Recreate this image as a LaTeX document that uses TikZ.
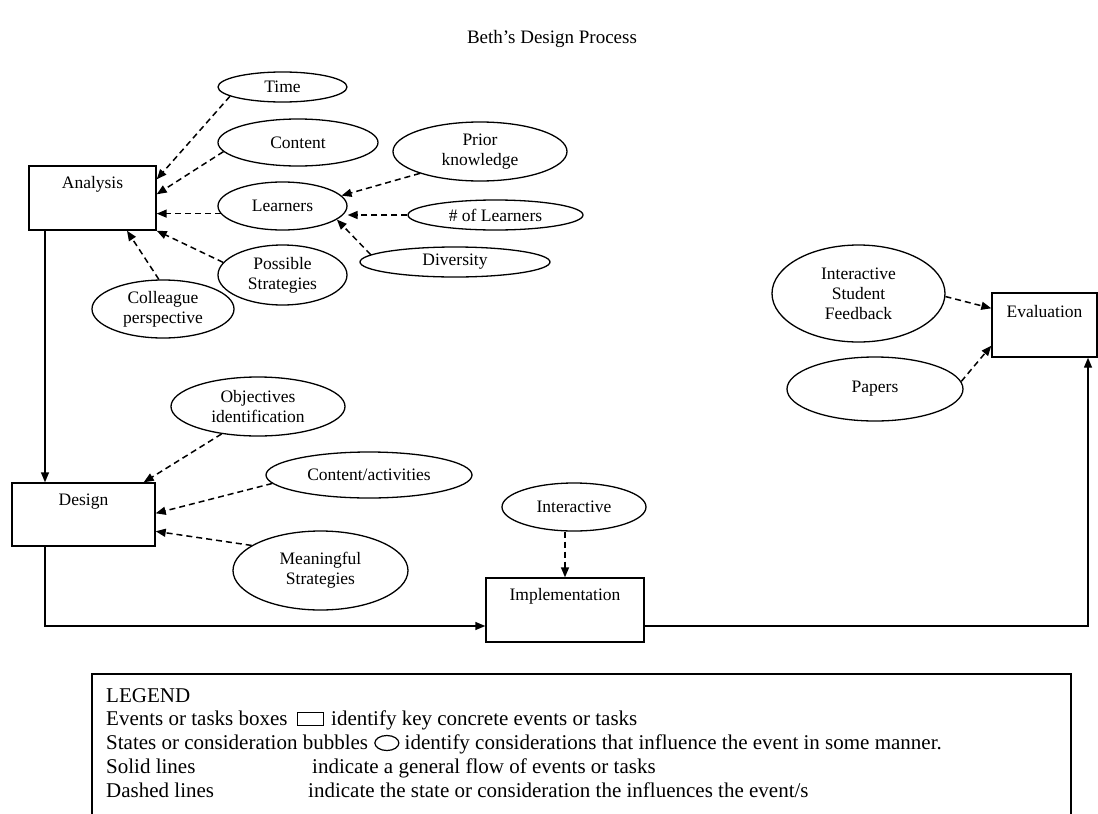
\documentclass[tikz,border=0pt]{standalone}
\usepackage{fontspec}
\setmainfont{Liberation Serif}
\usetikzlibrary{arrows.meta,shapes.geometric}
\begin{document}
\begin{tikzpicture}[x=1pt,y=-1pt,
  every node/.style={inner sep=0pt},
  nodefont/.style={font=\fontsize{17.5}{20}\selectfont},
  event/.style={draw, line width=1.4pt, rectangle},
  bubble/.style={draw, line width=1.3pt, ellipse, nodefont, align=center},
  boxlabel/.style={nodefont, anchor=center},
  flow/.style={line width=1.4pt, -{Triangle[length=10pt,width=8pt]}},
  influence/.style={line width=1.5pt, dash pattern=on 6pt off 4pt, -{Triangle[length=10pt,width=8pt]}},
  legtext/.style={font=\fontsize{21}{23}\selectfont, anchor=base west},
]
\useasboundingbox (0,0) rectangle (1098,814);

% title
\node[font=\fontsize{19}{22}\selectfont, anchor=base] (title) at (552,43) {Beth’s Design Process};

% event boxes
\node[event, minimum width=127pt, minimum height=64pt] (analysis) at (92.5,198) {};
\node[boxlabel] (analysis-t) at ([yshift=-19pt]analysis.north) {Analysis};
\node[event, minimum width=143pt, minimum height=63pt] (design) at (83.5,514.5) {};
\node[boxlabel] (design-t) at ([yshift=-19pt]design.north) {Design};
\node[event, minimum width=158pt, minimum height=64pt] (impl) at (565,610) {};
\node[boxlabel] (impl-t) at ([yshift=-19pt]impl.north) {Implementation};
\node[event, minimum width=105pt, minimum height=64pt] (eval) at (1044.5,325) {};
\node[boxlabel] (eval-t) at ([yshift=-19pt]eval.north) {Evaluation};

% consideration bubbles
\node[bubble, minimum width=129pt, minimum height=30pt] (time) at (282.5,87) {Time};
\node[bubble, minimum width=160pt, minimum height=47pt] (content) at (298,142.5) {Content};
\node[bubble, minimum width=174pt, minimum height=59pt] (prior) at (480,151.5) {Prior\\knowledge};
\node[bubble, minimum width=129pt, minimum height=48pt] (learners) at (282.5,206) {Learners};
\node[bubble, minimum width=175pt, minimum height=30pt] (numl) at (495.5,215) {\# of Learners};
\node[bubble, minimum width=190pt, minimum height=30pt] (diversity) at (455,262) {Diversity};
\node[bubble, minimum width=129pt, minimum height=60pt] (possible) at (282.5,275) {Possible\\Strategies};
\node[bubble, minimum width=142pt, minimum height=58pt] (colleague) at (163,309) {Colleague\\perspective};
\node[bubble, minimum width=174pt, minimum height=59pt] (objectives) at (258,406.5) {Objectives\\identification};
\node[bubble, minimum width=206pt, minimum height=46pt] (contact) at (369,475) {Content/activities};
\node[bubble, minimum width=175pt, minimum height=79pt] (meaningful) at (320.5,570.5) {Meaningful\\Strategies};
\node[bubble, minimum width=144pt, minimum height=48pt] (interactive) at (574,507) {Interactive};
\node[bubble, minimum width=173pt, minimum height=97pt] (isf) at (858.5,293.5) {Interactive\\Student\\Feedback};
\node[bubble, minimum width=176pt, minimum height=64pt] (papers) at (875,389) {Papers};

% influences on the analysis
\draw[influence] (time.190) -- ([yshift=-14pt]analysis.north east);
\draw[influence] (content.187) -- ([yshift=-29pt]analysis.north east);
\draw[influence] (learners.187) -- (learners.187 -| analysis.east);
\draw[influence] (possible.168) -- (analysis.south east);
\draw[influence] (colleague.98) -- ([xshift=34.5pt]analysis.south);
\draw[influence] (prior.200) -- (learners.10);
\draw[influence] (numl.west) -- (numl.west -| learners.east);
\draw[influence] (diversity.175) -- (learners.-14);

% design stage
\draw[flow] ([xshift=-47.5pt]analysis.south) -- ([xshift=-38.5pt]design.north);
\draw[influence] (objectives.217) -- ([xshift=-12pt]design.north east);
\draw[influence] (contact.185) -- ([yshift=-31pt]design.north east);
\draw[influence] (meaningful.160) -- ([yshift=-49pt]design.north east);

% implementation and evaluation
\draw[flow] ([xshift=-38.5pt]design.south) |- ([yshift=-16pt]impl.west);
\draw[influence] (interactive.south -| impl.north) -- (impl.north);
\draw[flow] ([yshift=-16pt]impl.east) -| ([xshift=43.5pt]eval.south);
\draw[influence] (isf.-2) -- ([yshift=-16pt]eval.north west);
\draw[influence] (papers.5) -- ([yshift=12pt]eval.south west);

% legend
\draw[line width=1.3pt] (92,816) -- (92,674) -- (1071,674) -- (1071,816);
\node[legtext] (lg1) at (106,702) {LEGEND};
\node[legtext] (lg2a) at (106,725) {Events or tasks boxes};
\node[draw, line width=1.2pt, minimum width=26pt, minimum height=13pt, anchor=west] (lg2b) at ([xshift=9pt,yshift=6pt]lg2a.base east) {};
\node[legtext] (lg2c) at ([xshift=7pt]lg2b.east |- lg2a.base) {identify key concrete events or tasks};
\node[legtext] (lg3a) at (106,749) {States or consideration bubbles};
\node[draw, ellipse, line width=1.2pt, minimum width=24pt, minimum height=15pt, anchor=west] (lg3b) at ([xshift=6pt,yshift=6pt]lg3a.base east) {};
\node[legtext] (lg3c) at ([xshift=5pt]lg3b.east |- lg3a.base) {identify considerations that influence the event in some manner.};
\node[legtext] (lg4a) at (106,773) {Solid lines};
\node[legtext] (lg4b) at (312,773) {indicate a general flow of events or tasks};
\node[legtext] (lg5a) at (106,797) {Dashed lines};
\node[legtext] (lg5b) at (308,797) {indicate the state or consideration the influences the event/s};
\end{tikzpicture}
\end{document}
